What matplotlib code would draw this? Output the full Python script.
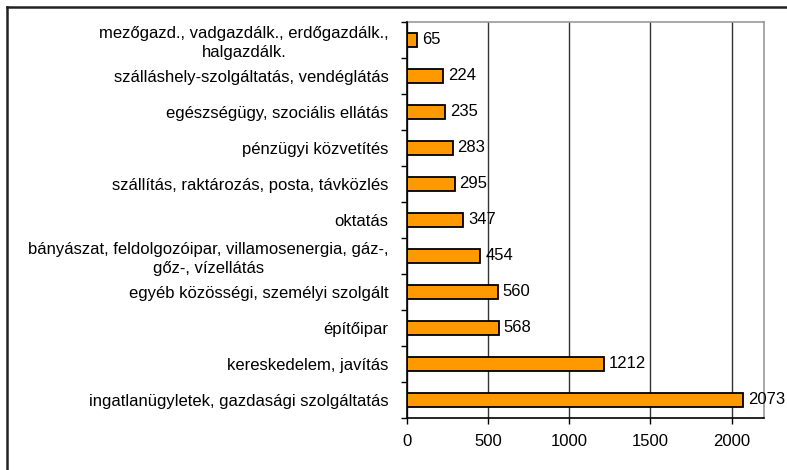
import matplotlib.pyplot as plt
from matplotlib.lines import Line2D
import numpy as np

plt.rcParams['font.family'] = ['Liberation Sans', 'DejaVu Sans']

categories = [
    'mezőgazd., vadgazdálk., erdőgazdálk.,\nhalgazdálk.',
    'szálláshely-szolgáltatás, vendéglátás',
    'egészségügy, szociális ellátás',
    'pénzügyi közvetítés',
    'szállítás, raktározás, posta, távközlés',
    'oktatás',
    'bányászat, feldolgozóipar, villamosenergia, gáz-,\ngőz-, vízellátás',
    'egyéb közösségi, személyi szolgált',
    'építőipar',
    'kereskedelem, javítás',
    'ingatlanügyletek, gazdasági szolgáltatás',
]
values = [65, 224, 235, 283, 295, 347, 454, 560, 568, 1212, 2073]

fig = plt.figure(figsize=(7.87, 4.70), dpi=100)
ax = fig.add_axes([0.5168, 0.1113, 0.9708 - 0.5168, 0.9532 - 0.1113])

n = len(categories)
y = np.arange(n)[::-1]
ax.barh(y, values, height=0.4, color='#ff9900', edgecolor='black', linewidth=1.3, zorder=3)
for yi, v in zip(y, values):
    ax.text(v + 30, yi, str(v), va='center', ha='left', fontsize=12, zorder=4)

ax.set_xlim(0, 2200)
ax.set_ylim(-0.5, n - 0.5)
ax.set_xticks([0, 500, 1000, 1500, 2000])
ax.set_yticks(y)
ax.set_yticklabels(categories, fontsize=12)
ax.set_yticks(np.arange(n + 1) - 0.5, minor=True)
ax.tick_params(axis='y', which='major', length=0, pad=13)
ax.tick_params(axis='y', which='minor', length=4, direction='out', width=1)
ax.tick_params(axis='x', length=4, direction='out', pad=8, labelsize=12, width=1)
for t in ax.get_yticklabels():
    t.set_multialignment('center')
    t.set_linespacing(1.28)

ax.xaxis.grid(True, color='#333333', linewidth=1, zorder=0)
for s in ['top', 'right']:
    ax.spines[s].set_color('#999999')
    ax.spines[s].set_linewidth(1.2)
for s in ['left', 'bottom']:
    ax.spines[s].set_color('black')
    ax.spines[s].set_linewidth(1.2)
    ax.spines[s].set_zorder(5)

# outer frame (only left and top visible)
fig.add_artist(Line2D([6.5 / 787, 6.5 / 787], [0, 1 - 7 / 470], color='#222222', lw=1.8))
fig.add_artist(Line2D([6.5 / 787, 1], [1 - 7 / 470, 1 - 7 / 470], color='#222222', lw=1.8))

fig.savefig('out.png', dpi=100)
